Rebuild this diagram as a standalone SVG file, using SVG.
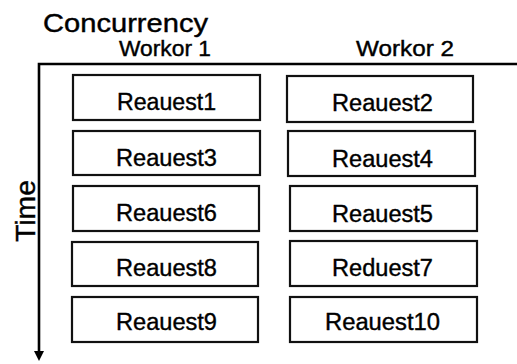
<svg xmlns="http://www.w3.org/2000/svg" width="517" height="364" viewBox="0 0 517 364">
<defs>
<style>
.box{fill:#fff;stroke:#111;stroke-width:2.2}
.t{font-family:"Liberation Sans",Arial,sans-serif;fill:#000;stroke:#000;stroke-width:0.4;text-anchor:middle}
.bt{font-size:23.5px}
.ax{stroke:#000;stroke-width:2.6;fill:none}
</style>
</defs>
<rect width="517" height="364" fill="#fff"/>
<text class="t" x="43" y="31.5" textLength="165" lengthAdjust="spacingAndGlyphs" style="font-size:25px;text-anchor:start">Concurrency</text>
<text class="t" x="165" y="56" textLength="92" lengthAdjust="spacingAndGlyphs" style="font-size:21.5px">Workor 1</text>
<text class="t" x="405" y="56" textLength="98" lengthAdjust="spacingAndGlyphs" style="font-size:21.5px">Workor 2</text>
<text class="t" transform="translate(35 211) rotate(-90)" textLength="62" lengthAdjust="spacingAndGlyphs" style="font-size:28px">Time</text>
<g id="connectors">
<path class="ax" d="M517,64 L39,64 L39,352"/>
<path d="M34,351 L44,351 L39,361 Z" fill="#000"/>
</g>
<g id="r1"><rect class="box" x="73" y="75" width="187" height="45"/><text class="t bt" x="166.5" y="109.5" textLength="99" lengthAdjust="spacingAndGlyphs">Reauest1</text></g>
<g id="r2"><rect class="box" x="287" y="76" width="186" height="46"/><text class="t bt" x="382.5" y="110.5" textLength="101" lengthAdjust="spacingAndGlyphs">Reauest2</text></g>
<g id="r3"><rect class="box" x="73" y="131" width="187" height="44"/><text class="t bt" x="166.5" y="165.5" textLength="101" lengthAdjust="spacingAndGlyphs">Reauest3</text></g>
<g id="r4"><rect class="box" x="288" y="131" width="187" height="45"/><text class="t bt" x="382.5" y="166.5" textLength="101" lengthAdjust="spacingAndGlyphs">Reauest4</text></g>
<g id="r6"><rect class="box" x="73" y="186" width="186" height="45"/><text class="t bt" x="166.5" y="220.5" textLength="101" lengthAdjust="spacingAndGlyphs">Reauest6</text></g>
<g id="r5"><rect class="box" x="290" y="186" width="187" height="45"/><text class="t bt" x="382.5" y="221.5" textLength="101" lengthAdjust="spacingAndGlyphs">Reauest5</text></g>
<g id="r8"><rect class="box" x="72" y="242" width="186" height="44"/><text class="t bt" x="166.5" y="275.5" textLength="101" lengthAdjust="spacingAndGlyphs">Reauest8</text></g>
<g id="r7"><rect class="box" x="290" y="241" width="187" height="45"/><text class="t bt" x="382.5" y="275.5" textLength="101" lengthAdjust="spacingAndGlyphs">Reduest7</text></g>
<g id="r9"><rect class="box" x="72" y="297" width="186" height="45"/><text class="t bt" x="166.5" y="329.5" textLength="101" lengthAdjust="spacingAndGlyphs">Reauest9</text></g>
<g id="r10"><rect class="box" x="290" y="297" width="187" height="45"/><text class="t bt" x="382.5" y="329.5" textLength="115" lengthAdjust="spacingAndGlyphs">Reauest10</text></g>
</svg>
